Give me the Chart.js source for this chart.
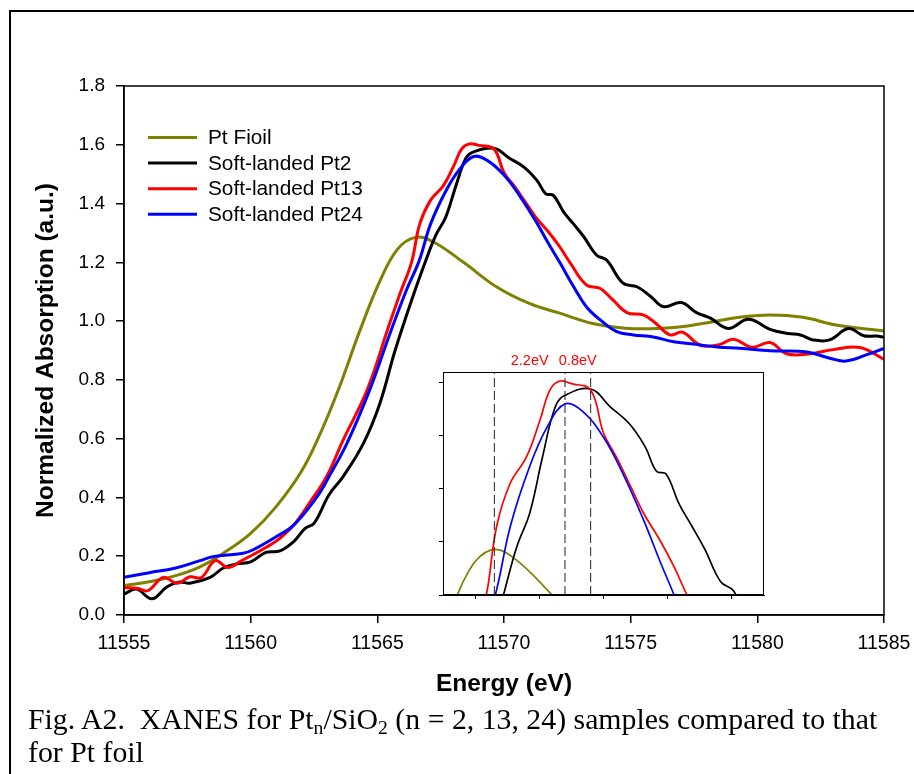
<!DOCTYPE html>
<html>
<head>
<meta charset="utf-8">
<script src="https://cdn.jsdelivr.net/npm/chart.js@4.4.0/dist/chart.umd.min.js"></script>
<style>
  html, body { margin: 0; padding: 0; background: #fff; width: 914px; height: 774px; overflow: hidden; }
  #frame { position: absolute; left: 9px; top: 10px; width: 1000px; height: 900px; border: 2px solid #000; }
  #mainChart { position: absolute; left: 0; top: 0; }
  #insetChart { position: absolute; left: 433px; top: 340px; }
  #caption {
    position: absolute; left: 28px; top: 702px; white-space: nowrap;
    font-family: "Liberation Serif", "Times New Roman", serif; font-size: 29.8px; line-height: 33px; color: #000;
  }
  #caption sub { font-size: 0.66em; vertical-align: -0.25em; line-height: 0; }
</style>
</head>
<body>
<div id="frame"></div>
<canvas id="mainChart" width="914" height="774"></canvas>
<canvas id="insetChart" width="341" height="265"></canvas>
<div id="caption">Fig. A2.&nbsp; XANES for Pt<sub>n</sub>/SiO<sub>2</sub> (n = 2, 13, 24) samples compared to that<br>for Pt foil</div>

<script>
// ---- data: energy (eV) and normalized absorption ----
const foilE = [11555, 11556, 11557, 11558, 11559, 11560, 11561, 11562, 11562.75, 11563.5, 11564.3, 11565.1, 11565.8, 11566.5, 11567.2, 11568.4, 11569.7, 11571, 11572.2, 11573.5, 11574.8, 11575.7, 11577, 11578.3, 11579.3, 11580.5, 11581.8, 11583.1, 11585];
const foilMu = [0.100, 0.113, 0.133, 0.164, 0.215, 0.278, 0.368, 0.488, 0.618, 0.775, 0.965, 1.136, 1.245, 1.285, 1.270, 1.200, 1.117, 1.060, 1.027, 0.992, 0.976, 0.974, 0.981, 0.999, 1.013, 1.021, 1.013, 0.987, 0.966];

const pt2E = [11555, 11555.5, 11556.1, 11556.7, 11557.2, 11557.6, 11558.4, 11558.9, 11559.45, 11560, 11560.6, 11561.15, 11561.7, 11562.15, 11562.5, 11563.1, 11563.65, 11564.45, 11565.1, 11565.7, 11566.4, 11566.95, 11567.3, 11567.7, 11568.1, 11568.5, 11568.8, 11569.6, 11570.2, 11570.8, 11571.3, 11571.65, 11571.95, 11572.35, 11572.75, 11573.15, 11573.65, 11574.05, 11574.7, 11575.25, 11575.8, 11576.3, 11577, 11577.6, 11578.15, 11578.85, 11579.65, 11580.5, 11581.2, 11581.7, 11582.2, 11582.85, 11583.6, 11584.2, 11584.7, 11585];
const pt2Mu = [0.071, 0.088, 0.055, 0.096, 0.112, 0.108, 0.128, 0.159, 0.174, 0.181, 0.213, 0.218, 0.250, 0.295, 0.312, 0.410, 0.471, 0.584, 0.720, 0.900, 1.083, 1.215, 1.291, 1.354, 1.460, 1.555, 1.576, 1.588, 1.555, 1.523, 1.479, 1.433, 1.428, 1.372, 1.330, 1.287, 1.225, 1.208, 1.129, 1.117, 1.083, 1.049, 1.063, 1.029, 1.010, 0.975, 1.006, 0.972, 0.958, 0.953, 0.936, 0.936, 0.975, 0.950, 0.949, 0.945];

const pt13E = [11555, 11555.55, 11555.95, 11556.55, 11557.1, 11557.6, 11558.05, 11558.6, 11559.1, 11559.65, 11560.1, 11560.65, 11561.15, 11561.7, 11562.35, 11563, 11563.65, 11564.6, 11565.4, 11565.9, 11566.35, 11566.67, 11567.09, 11567.6, 11568.02, 11568.33, 11568.64, 11569, 11569.6, 11570, 11570.4, 11570.85, 11571.25, 11571.75, 11572.2, 11572.6, 11573.25, 11573.8, 11574.3, 11574.85, 11575.5, 11576, 11576.55, 11577.05, 11577.75, 11578.5, 11579.05, 11579.8, 11580.5, 11581.15, 11582, 11583, 11584.05, 11585];
const pt13Mu = [0.094, 0.090, 0.083, 0.128, 0.108, 0.130, 0.127, 0.185, 0.162, 0.185, 0.206, 0.232, 0.261, 0.306, 0.385, 0.471, 0.595, 0.766, 0.970, 1.095, 1.200, 1.329, 1.410, 1.460, 1.529, 1.586, 1.603, 1.598, 1.586, 1.505, 1.460, 1.404, 1.354, 1.304, 1.253, 1.200, 1.123, 1.111, 1.072, 1.029, 1.021, 0.992, 0.953, 0.962, 0.918, 0.920, 0.938, 0.911, 0.927, 0.889, 0.888, 0.903, 0.910, 0.870];

const pt24E = [11555, 11556, 11557, 11558, 11558.5, 11559.7, 11560.1, 11561, 11561.7, 11562.6, 11563.1, 11563.8, 11564.7, 11565.5, 11566.15, 11566.65, 11567.1, 11567.7, 11568.25, 11568.8, 11569.35, 11570, 11570.6, 11571.25, 11571.75, 11572.2, 11572.75, 11573.25, 11573.8, 11574.45, 11575.1, 11575.9, 11576.7, 11577.75, 11578.5, 11579.3, 11580.5, 11581.95, 11582.9, 11583.5, 11584.3, 11585];
const pt24Mu = [0.128, 0.144, 0.159, 0.185, 0.198, 0.210, 0.222, 0.266, 0.306, 0.400, 0.472, 0.584, 0.766, 0.958, 1.106, 1.205, 1.330, 1.442, 1.517, 1.560, 1.546, 1.497, 1.429, 1.341, 1.265, 1.200, 1.117, 1.049, 1.004, 0.964, 0.953, 0.946, 0.930, 0.919, 0.911, 0.908, 0.899, 0.895, 0.873, 0.864, 0.885, 0.907];

const seriesNames = ["Pt Fioil", "Soft-landed Pt2", "Soft-landed Pt13", "Soft-landed Pt24"];
const seriesColors = ["#808000", "#000000", "#ff0000", "#0000ff"];

const energyTicks = [11555, 11560, 11565, 11570, 11575, 11580, 11585];
const absTicks = [0, 0.2, 0.4, 0.6, 0.8, 1.0, 1.2, 1.4, 1.6, 1.8];

// inset (zoom on the edge / white line)
const insetETicks = [11566, 11568, 11570, 11572, 11574];
const insetMuTicks = [1.2, 1.3, 1.4, 1.5, 1.6];
const insetRange = { eMin: 11565, eMax: 11575, muMin: 1.2, muMax: 1.62 };
const shiftMarkersE = [11566.6, 11568.8, 11569.6];
const shiftLabels = ["2.2eV", "0.8eV"];

const SANS = '"Liberation Sans", Arial, sans-serif';

function pairs(xs, ys) {
  return xs.map((x, i) => ({ x, y: ys[i] }));
}

function buildSeries(width) {
  const sets = [[foilE, foilMu], [pt2E, pt2Mu], [pt13E, pt13Mu], [pt24E, pt24Mu]];
  return sets.map(([xs, ys], i) => ({
    label: seriesNames[i],
    data: pairs(xs, ys),
    borderColor: seriesColors[i],
    borderWidth: width,
    pointRadius: 0,
    tension: 0.4,
    order: 4 - i, // blue on top
  }));
}

// keep the plot box where the figure has it (no auto padding from labels)
function noPad(s) {
  s.paddingLeft = 0;
  s.paddingRight = 0;
  s.paddingTop = 0;
  s.paddingBottom = 0;
}

/* ============================================================
   Main chart plugins: closed frame + series key
============================================================ */
const mainDecor = {
  id: "mainDecor",
  afterDraw(chart) {
    const { ctx, chartArea: a } = chart;
    ctx.save();
    ctx.strokeStyle = "#000";
    ctx.lineWidth = 1.5;
    ctx.strokeRect(a.left, a.top, a.right - a.left, a.bottom - a.top);

    ctx.font = "20.8px " + SANS;
    ctx.textBaseline = "middle";
    chart.data.datasets.forEach((ds, i) => {
      const y = 137.5 + i * 25.6;
      ctx.strokeStyle = ds.borderColor;
      ctx.lineWidth = 3;
      ctx.beginPath();
      ctx.moveTo(148, y);
      ctx.lineTo(197, y);
      ctx.stroke();
      ctx.fillStyle = "#000";
      ctx.fillText(ds.label, 208, y + 1);
    });
    ctx.restore();
  },
};

new Chart(document.getElementById("mainChart"), {
  type: "line",
  data: { datasets: buildSeries(3) },
  options: {
    responsive: false,
    animation: false,
    devicePixelRatio: 1,
    layout: { padding: { left: 0, top: 86, right: 30, bottom: 0 } },
    plugins: { legend: { display: false }, tooltip: { enabled: false } },
    scales: {
      x: {
        type: "linear",
        min: 11555,
        max: 11585,
        afterBuildTicks: (s) => { s.ticks = energyTicks.map((v) => ({ value: v })); },
        afterFit: (s) => { s.height = 159; noPad(s); },
        grid: { drawOnChartArea: false, drawTicks: true, tickLength: 8, color: "#000", lineWidth: 1.5 },
        border: { color: "#000", width: 1.5 },
        ticks: { color: "#000", font: { family: SANS, size: 19.5 }, padding: 9, maxRotation: 0, autoSkip: false, callback: (v) => String(v) },
        title: { display: true, text: "Energy (eV)", color: "#000", font: { family: SANS, size: 24.5, weight: "bold" }, padding: { top: 0, bottom: 75 } },
      },
      y: {
        min: 0,
        max: 1.8,
        afterBuildTicks: (s) => { s.ticks = absTicks.map((v) => ({ value: v })); },
        afterFit: (s) => { s.width = 124; noPad(s); },
        grid: { drawOnChartArea: false, drawTicks: true, tickLength: 8, color: "#000", lineWidth: 1.5 },
        border: { color: "#000", width: 1.5 },
        ticks: { color: "#000", font: { family: SANS, size: 19 }, padding: 11, callback: (v) => Number(v).toFixed(1) },
        title: { display: true, text: "Normalized Absorption (a.u.)", color: "#000", font: { family: SANS, size: 24.5, weight: "bold" }, padding: { top: 32, bottom: 0 } },
      },
    },
  },
  plugins: [mainDecor],
});

/* ============================================================
   Inset: white panel, box, shift labels
============================================================ */
const insetDecor = {
  id: "insetDecor",
  beforeDraw(chart) {
    const { ctx, chartArea: a } = chart;
    ctx.save();
    ctx.fillStyle = "#fff";
    ctx.fillRect(a.left, a.top, a.right - a.left, a.bottom - a.top);
    ctx.restore();
  },
  afterDraw(chart) {
    const { ctx, chartArea: a, scales } = chart;
    ctx.save();
    ctx.strokeStyle = "#000";
    ctx.lineWidth = 1;
    ctx.strokeRect(a.left + 0.5, a.top + 0.5, a.right - a.left - 1, a.bottom - a.top - 1);
    ctx.fillStyle = "#ff0000";
    ctx.font = "14.5px " + SANS;
    ctx.textAlign = "center";
    ctx.textBaseline = "middle";
    shiftLabels.forEach((txt, i) => {
      const x0 = scales.x.getPixelForValue(shiftMarkersE[i]);
      const x1 = scales.x.getPixelForValue(shiftMarkersE[i + 1]);
      ctx.fillText(txt, (x0 + x1) / 2, a.top - 11);
    });
    ctx.restore();
  },
};

const markerSets = shiftMarkersE.map((e) => ({
  label: "marker",
  data: [{ x: e, y: insetRange.muMin }, { x: e, y: insetRange.muMax }],
  borderColor: "#222",
  borderWidth: 1,
  borderDash: [9, 4],
  pointRadius: 0,
  order: 0,
}));

new Chart(document.getElementById("insetChart"), {
  type: "line",
  data: { datasets: buildSeries(1.7).concat(markerSets) },
  options: {
    responsive: false,
    animation: false,
    devicePixelRatio: 1,
    layout: { padding: { left: 0, top: 32, right: 10, bottom: 0 } },
    plugins: { legend: { display: false }, tooltip: { enabled: false } },
    scales: {
      x: {
        type: "linear",
        min: insetRange.eMin,
        max: insetRange.eMax,
        afterBuildTicks: (s) => { s.ticks = insetETicks.map((v) => ({ value: v })); },
        afterFit: (s) => { s.height = 10; noPad(s); },
        grid: { drawOnChartArea: false, drawTicks: true, tickLength: 4, color: "#000", lineWidth: 1 },
        border: { color: "#000", width: 1 },
        ticks: { display: false },
      },
      y: {
        min: insetRange.muMin,
        max: insetRange.muMax,
        afterBuildTicks: (s) => { s.ticks = insetMuTicks.map((v) => ({ value: v })); },
        afterFit: (s) => { s.width = 10; noPad(s); },
        grid: { drawOnChartArea: false, drawTicks: true, tickLength: 4, color: "#000", lineWidth: 1 },
        border: { color: "#000", width: 1 },
        ticks: { display: false },
      },
    },
  },
  plugins: [insetDecor],
});
</script>
</body>
</html>
